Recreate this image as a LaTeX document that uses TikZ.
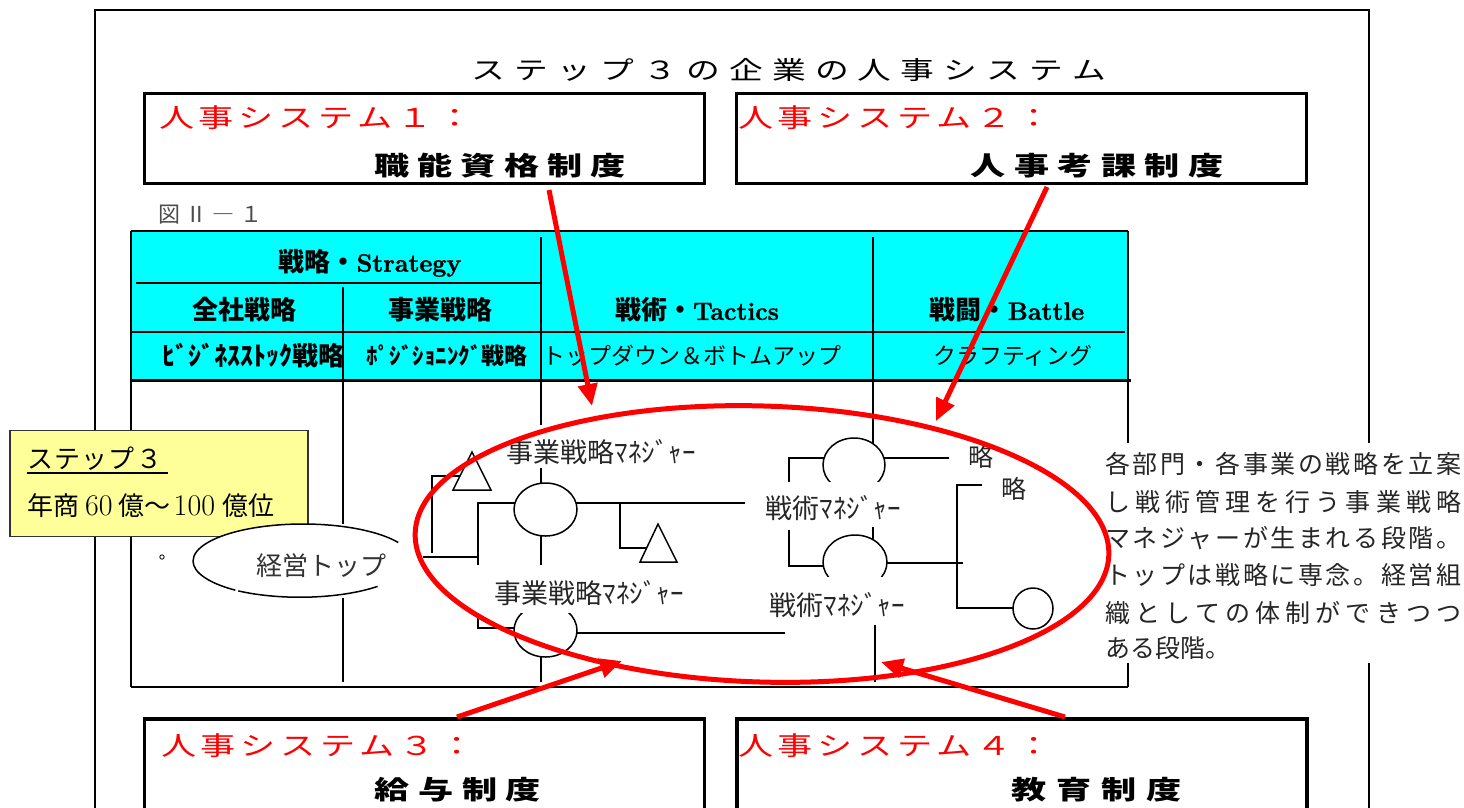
\documentclass[tikz,border=0pt]{standalone}
\usepackage{fontspec}
\usepackage{graphicx}
\newfontfamily\jp{Noto Sans CJK JP}
\newfontfamily\lat[BoldFeatures={FakeBold=1.5}]{Latin Modern Roman}
\usetikzlibrary{arrows.meta,shapes.geometric}
\definecolor{ylw}{RGB}{255,255,153}
\definecolor{cyn}{RGB}{0,255,255}
\newcommand\fs[1]{\fontsize{#1pt}{#1pt}\selectfont}
\def\sprd#1#2{\makebox[#1][s]{\sprdaux#2\sprdend}}
\def\sprdaux#1{#1\futurelet\sprdnext\sprdcheck}
\def\sprdcheck{\ifx\sprdnext\sprdend\expandafter\sprdgobble\else\hfil\expandafter\sprdaux\fi}
\def\sprdgobble#1{}
\def\sprdend{\relax}
\begin{document}
\begin{tikzpicture}[x=1pt,y=-1pt,
  ln/.style={line width=1.5pt},
  sysbox/.style={draw, line width=3.5pt, inner sep=0},
  redtxt/.style={text=red, font=\jp\fs{26}, inner sep=0, anchor=west},
  blktxt/.style={font=\jp\fs{26}\bfseries, inner sep=0},
  hdr/.style={font=\lat\fs{25}\bfseries, inner sep=0},
  orgell/.style={draw, ellipse, line width=1.5pt, inner sep=0},
  mgr/.style={font=\jp\fs{27}, text=black!85, fill=white, inner sep=0},
  body/.style={font=\jp\fs{25}, text=black!85, inner sep=0, anchor=west},
  redarrow/.style={draw=red, line width=5pt, -{Triangle[length=22pt,width=19pt]}}
]
\useasboundingbox (0,0) rectangle (1464,807);
\fill[white] (0,0) rectangle (1464,807);
% outer frame
\draw[ln] (95,850) -- (95,10) -- (1369,10) -- (1369,850);
% title
\node[font=\jp\fs{25}, inner sep=0] (title) at (789,70) {\scalebox{1.35}[1]{\sprd{470pt}{ステップ３の企業の人事システム}}};
% system boxes
\node[sysbox, minimum width=560pt, minimum height=90pt] (b1) at (424.5,138.5) {};
\node[sysbox, minimum width=570pt, minimum height=90pt] (b2) at (1021.5,138.5) {};
\node[sysbox, minimum width=560pt, minimum height=140pt] (b3) at (424.5,788.75) {};
\node[sysbox, minimum width=570pt, minimum height=140pt] (b4) at (1022,788.75) {};
\node[redtxt] (r1) at (159,118) {\scalebox{1.35}[1]{\sprd{232pt}{人事システム１：}}};
\node[redtxt] (r2) at (738,118) {\scalebox{1.35}[1]{\sprd{232pt}{人事システム２：}}};
\node[redtxt] (r3) at (161,746) {\scalebox{1.35}[1]{\sprd{232pt}{人事システム３：}}};
\node[redtxt] (r4) at (738,746) {\scalebox{1.35}[1]{\sprd{232pt}{人事システム４：}}};
\node[blktxt] (t1) at (500,166) {\scalebox{1.35}[1]{\sprd{186pt}{職能資格制度}}};
\node[blktxt] (t2) at (1097,166) {\scalebox{1.35}[1]{\sprd{187pt}{人事考課制度}}};
\node[blktxt] (t3) at (458,790) {\scalebox{1.35}[1]{\sprd{123pt}{給与制度}}};
\node[blktxt] (t4) at (1097,790) {\scalebox{1.35}[1]{\sprd{126pt}{教育制度}}};
\node[font=\jp\fs{22}, text=black!70, anchor=west, inner sep=0] (fig) at (158,215) {\sprd{104pt}{図Ⅱ―１}};
% table
\fill[cyn] (131,231) rectangle (1128,380);
\draw[line width=1.2pt] (131,231) -- (1128,231);
\draw[line width=1.2pt] (131,231) -- (131,380);
\draw[ln] (136,283) -- (540,283);
\draw[ln] (131,332) -- (1125,332);
\draw[line width=3pt] (131,380) -- (1131,380);
\draw[line width=2.5pt] (1128,231) -- (1128,381);
\draw[ln] (343,287) -- (343,524);
\draw[ln] (343,598) -- (343,682);
\draw[ln] (541,237) -- (541,425);
\draw[ln] (873,237) -- (873,444);
\node[hdr] (s1) at (370,263) {{\jp\fs{26}戦略・}Strategy};
\node[hdr, font=\jp\fs{26}\bfseries] (s2) at (244,310) {全社戦略};
\node[hdr, font=\jp\fs{26}\bfseries] (s3) at (440,310) {事業戦略};
\node[hdr] (s4) at (697,310) {{\jp\fs{26}戦術・}Tactics};
\node[hdr] (s5) at (1007,310) {{\jp\fs{26}戦闘・}Battle};
\node[font=\jp\fs{26}\bfseries, inner sep=0] (s6) at (253,356) {ﾋﾞｼﾞﾈｽｽﾄｯｸ戦略};
\node[font=\jp\fs{23}\bfseries, inner sep=0] (s7) at (447,356) {ﾎﾟｼﾞｼｮﾆﾝｸﾞ戦略};
\node[font=\jp\fs{23}, inner sep=0] (s8) at (692,356) {トップダウン＆ボトムアップ};
\node[font=\jp\fs{23}, inner sep=0] (s9) at (1013,356) {クラフティング};
% chart frame
\draw[ln] (131,380) -- (131,687);
\draw[line width=2pt] (131,687) -- (1128,687);
\draw[ln] (1128,380) -- (1128,687);
% org shapes
\node[orgell, minimum width=63pt, minimum height=53pt] (c1) at (545.5,509.5) {};
\node[orgell, minimum width=63pt, minimum height=53pt] (c2) at (545.5,630.5) {};
\node[orgell, minimum width=62pt, minimum height=54pt] (c3) at (854,465) {};
\node[orgell, minimum width=64pt, minimum height=54pt] (c4) at (855,562) {};
\node[orgell, minimum width=40pt, minimum height=41pt] (c5) at (1033,608.5) {};
\draw[ln] (472,452) -- (491,490) -- (453,490) -- cycle;
\draw[ln] (658,524) -- (677,562) -- (640,562) -- cycle;
% manager labels
\node[mgr] (jm1) at (601,452) {事業戦略ﾏﾈｼﾞｬｰ};
\node[mgr, minimum height=40pt] (jm2) at (589,593) {事業戦略ﾏﾈｼﾞｬｰ};
\node[mgr, minimum height=52pt] (tm1) at (833,508) {戦術ﾏﾈｼﾞｬｰ};
\node[mgr, minimum height=56pt] (tm2) at (837,605) {戦術ﾏﾈｼﾞｬｰ};
\node[font=\jp\fs{25}, text=black!85, inner sep=0] (ry1) at (981,457) {略};
\node[font=\jp\fs{25}, text=black!85, inner sep=0] (ry2) at (1014,489) {略};
% org lines
\draw[ln] (460,476) -- (432,476) -- (432,553);
\draw[ln] (423,557) -- (478,557);
\draw[ln] (478,565) -- (478,503) -- (515,503);
\draw[ln] (541,468) -- (541,483);
\draw[ln] (541,536) -- (541,565);
\draw[ln] (576,503) -- (745,503);
\draw[ln] (620,503) -- (620,548) -- (647,548);
\draw[ln] (478,613) -- (478,628) -- (515,628);
\draw[ln] (577,633) -- (785,633);
\draw[ln] (541,657) -- (541,682);
\draw[ln] (789,482) -- (789,458) -- (824,458);
\draw[ln] (884,458) -- (949,458);
\draw[ln] (873,527) -- (873,540);
\draw[ln] (789,530) -- (789,566) -- (823,566);
\draw[ln] (887,563) -- (963,563);
\draw[ln] (982,485) -- (957,485) -- (957,608) -- (1013,608);
\draw[ln] (875,625) -- (875,682);
% yellow step box
\node[draw=black!80, fill=ylw, line width=1.2pt, minimum width=298pt, minimum height=106pt, inner sep=0] (yb) at (159,483.5) {};
\node[font=\jp\fs{26}, inner sep=0, anchor=west] (ys) at (27,459) {\sprd{135pt}{ステップ３}};
\draw[line width=2.2pt] (27,473) -- (168,473);
\node[font=\fs{26}, inner sep=0, anchor=west] (ysales) at (27,506) {{\jp 年商}\hspace{6pt}{\fs{30}60}\hspace{6pt}{\jp 億～}\hspace{3pt}{\fs{30}100}\hspace{7pt}{\jp 億位}};
% top management ellipse
\fill[white] (303,561) ellipse [x radius=110, y radius=37];
\draw[line width=1.5pt] (398.3,542.5) arc[start angle=330, end angle=128, x radius=110, y radius=37];
\draw[line width=1.5pt] (238.3,590.9) arc[start angle=124, end angle=45, x radius=110, y radius=37];
\node[font=\jp\fs{26}, text=black!80, inner sep=0] (top) at (321,566) {経営トップ};
\draw[line width=0.8pt] (162,557) circle[radius=2.2];
% description
\fill[white] (1098,443) rectangle (1464,663);
\node[body] (d1) at (1105,464) {\sprd{356pt}{各部門・各事業の戦略を立案}};
\node[body] (d2) at (1105,502) {\sprd{356pt}{し戦術管理を行う事業戦略}};
\node[body] (d3) at (1105,538) {\sprd{356pt}{マネジャーが生まれる段階。}};
\node[body] (d4) at (1105,575) {\sprd{356pt}{トップは戦略に専念。経営組}};
\node[body] (d5) at (1105,613) {\sprd{356pt}{織としての体制ができつつ}};
\node[body] (d6) at (1105,648) {ある段階。};
% red ellipse and arrows
\draw[red, line width=5pt, rotate around={-1.8:(762,544)}] (762,544) ellipse [x radius=347, y radius=138];
\coordinate (a1s) at (549,190);
\coordinate (a1e) at (592,406);
\coordinate (a2s) at (1047,187);
\coordinate (a2e) at (936,421);
\coordinate (a3s) at (457,717);
\coordinate (a3e) at (622,661);
\coordinate (a4s) at (1065,717);
\coordinate (a4e) at (881,662);
\draw[redarrow] (a1s) -- (a1e);
\draw[redarrow] (a2s) -- (a2e);
\draw[redarrow] (a3s) -- (a3e);
\draw[redarrow] (a4s) -- (a4e);
\end{tikzpicture}
\end{document}
